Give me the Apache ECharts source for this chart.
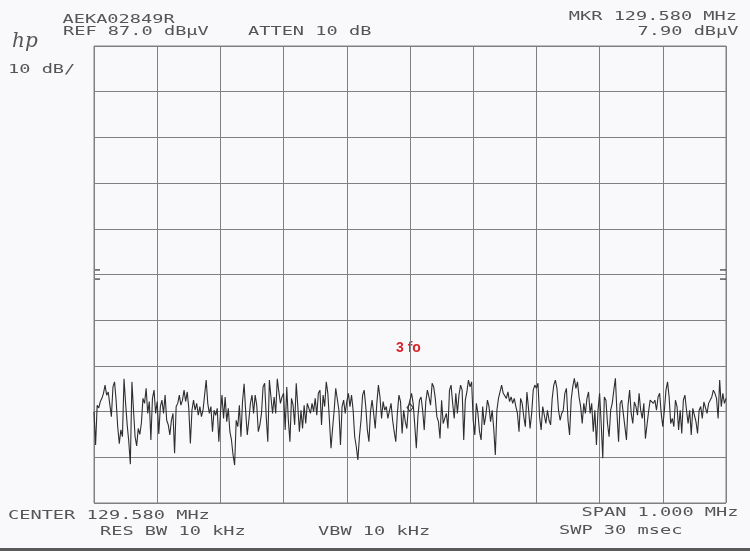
<!DOCTYPE html>
<html>
<head>
<meta charset="utf-8">
<script src="https://cdn.jsdelivr.net/npm/echarts@6/dist/echarts.min.js"></script>
<style>
  html, body { margin: 0; padding: 0; background: #f9f9fc; }
  #chart { width: 750px; height: 551px; }
</style>
</head>
<body>
<div id="chart"></div>
<script>
// ---- instrument settings ----
const refLevel = 87.0;      // dBµV, top of screen
const dbPerDiv = 10;
const vDivs = 10;
const hDivs = 10;
const markerIndex = 200;    // centre of sweep
const markerLevel = 7.90;   // dBµV

// ---- header / footer annotations ----
const headerLeft = ['AEKA02849R', 'REF 87.0 dBµV', 'ATTEN 10 dB', '10 dB/'];
const headerRight = ['MKR 129.580 MHz', '7.90 dBµV'];
const footerTexts = ['CENTER 129.580 MHz', 'RES BW 10 kHz', 'VBW 10 kHz', 'SPAN 1.000 MHz', 'SWP 30 msec'];
const noteText = '3 fo';

// ---- trace (dBµV), 401 sweep points ----
const traceA = [
  7.0, -0.3, 8.4, 7.8, 9.2, 9.9, 11.0, 12.8, 10.6, 11.3,
  11.7, 5.9, 12.4, 13.5, 9.5, 3.7, 0.0, 3.0, 1.5, 14.2,
  8.8, 4.1, 0.5, -4.5, 13.5, 7.3, 1.5, -0.5, 3.3, 2.0,
  4.5, 9.9, 8.8, 12.1, 6.6, 9.2, 0.8, 9.9, 11.7, 6.6,
  9.2, 2.1, 8.1, 9.5, 6.6, 10.6, 5.1, 4.1, 1.9, 5.1,
  6.6, -2.1, 8.1, 8.8, 10.6, 8.4, 9.5, 11.7, 9.2, 11.3,
  7.7, 0.0, 7.3, 9.5, 7.3, 8.8, 6.2, 8.1, 5.9, 7.3,
  10.6, 13.9, 8.8, 6.6, 8.1, 2.6, 7.3, 6.2, 7.7, 0.4,
  6.6, 10.6, 5.5, 10.2, 4.8, 7.7, 2.6, 0.8, -2.5, -4.7,
  5.1, 3.7, 8.4, 1.5, 9.2, 13.1, 7.0, 1.9, 5.1
];
const traceB = [
  8.8, 10.6, 6.6, 10.6, 8.4, 2.6, 4.1, 6.6, 12.4, 13.2,
  5.9, 0.4, 13.9, 10.2, 6.6, 10.2, 6.6, 14.2, 11.3, 8.8,
  10.2, 11.0, 3.0, 12.4, 5.1, 0.4, 9.9, 8.4, 4.1, 13.2,
  8.1, 2.6, 7.3, 3.3, 8.4, 4.4, 8.8, 9.2, 6.6, 8.8,
  7.0, 9.9, 6.2, 11.0, 11.7, 4.1, 10.6, 8.1, 13.5, 11.0,
  5.1, -1.0, 3.3, 7.3, 12.1, 11.7, 7.3, -0.3, 8.1, 9.5,
  6.6, 9.2, 11.0, 8.1, 10.6, 7.3, 1.5, -0.7, -3.6, 1.5,
  5.1, 10.6, 11.7, 8.1, 3.0, 0.4, 7.0, 9.5, 6.6, 3.3,
  8.8, 12.8, 10.2, 5.5, 9.2, 7.3, 8.1, 5.5, 5.9, 8.8,
  5.1, 2.6, 0.4, 6.6, 10.6, 9.2, 2.2, 7.3, 4.8, 3.3,
  8.1
];
const traceC = [
  8.1, 11.0, 8.8, 4.1, -1.0, 5.9, 9.5, 10.2, 7.3, 3.0,
  9.2, 11.7, 10.2, 8.4, 13.2, 12.4, 9.9, 5.9, 4.8, 1.1,
  9.5, 4.4, 5.5, 6.6, 3.3, 11.7, 12.8, 8.8, 5.5, 11.0,
  6.6, 10.6, 12.8, 11.7, 0.8, 9.5, 11.3, 13.9, 12.4, 13.5,
  5.1, 1.9, 8.8, 6.6, 2.6, 0.8, 8.1, 4.1, 6.2, 9.5,
  8.1, 4.8, 7.3, 3.3, -2.5, 7.3, 9.9, 9.9, 12.8, 11.0,
  10.6, 9.9, 11.3, 9.2, 10.2, 8.8, 9.9, 8.1, 6.6, 2.6,
  9.9, 8.8, 5.9, 3.7, 11.3, 7.7, 3.3, 6.6, 11.7, 12.8,
  12.1, 13.2, 5.9, 3.0, 8.1, 7.7, 4.4, 7.3, 5.1, 4.1,
  9.9, 12.8, 13.9, 12.1, 7.3, 5.1, 6.6, 7.3, 11.0, 12.1,
  5.1
];
const traceD = [
  1.9, 9.5, 12.4, 14.3, 12.1, 13.5, 10.2, 8.1, 4.4, 8.8,
  6.6, 9.9, 11.3, 6.6, 8.8, 2.6, 7.3, -0.3, 7.3, 11.0,
  4.4, -3.2, 10.2, 9.5, 4.4, 1.5, 7.3, 8.8, 11.7, 14.3,
  6.6, 0.4, 8.8, 9.5, 9.9, 3.7, 0.8, 8.4, 11.7, 6.6,
  4.4, 9.1, 8.1, 6.2, 11.0, 7.3, 5.5, 8.8, 1.1, 4.1,
  7.0, 9.5, 9.9, 8.8, 9.5, 7.3, 10.2, 11.0, 6.6, 3.7,
  7.3, 11.7, 13.5, 10.2, 4.4, 5.5, 3.7, 9.5, 8.1, 3.0,
  7.3, 2.2, 9.5, 10.6, 7.3, 4.4, 7.3, 1.9, 7.7, 6.2,
  4.8, 2.2, 7.3, 8.1, 5.5, 9.1, 9.5, 6.6, 8.8, 8.4,
  10.2, 11.7, 11.0, 9.9, 5.5, 13.9, 8.1, 11.0, 8.8, 9.9
];

// ---- build ----
const trace = traceA.concat(traceB, traceC, traceD);
const nPts = trace.length;                       // 401
const bottomLevel = refLevel - dbPerDiv * vDivs; // -13 dBµV
const ySpan = dbPerDiv * vDivs;                  // axis runs 0..100 dB above screen bottom
const xMax = nPts - 1;
const seriesData = trace.map((v, i) => [i, +(v - bottomLevel).toFixed(2)]);

const gridColor = '#808080';
const inkColor = '#555555';
const monoFont = '12.5px "DejaVu Sans Mono", "Liberation Mono", monospace';
const SX = 1.49;

function txt(text, x, y, align) {
  return {
    type: 'text', x: x, y: y, scaleX: SX, silent: true,
    style: {
      text: text, fill: inkColor, font: monoFont,
      textAlign: align || 'left', align: align || 'left',
      textVerticalAlign: 'middle', verticalAlign: 'middle'
    }
  };
}

const chart = echarts.init(document.getElementById('chart'), null, { renderer: 'canvas' });

const option = {
  backgroundColor: '#f9f9fc',
  animation: false,
  grid: {
    left: 94, top: 46, width: 632, height: 457,
    show: true, borderColor: gridColor, borderWidth: 1, backgroundColor: 'transparent'
  },
  xAxis: {
    type: 'value', min: 0, max: xMax, interval: xMax / hDivs,
    axisLine: { show: false }, axisTick: { show: false }, axisLabel: { show: false },
    splitLine: { show: true, lineStyle: { color: gridColor, width: 1 } }
  },
  yAxis: {
    type: 'value', min: 0, max: ySpan, interval: dbPerDiv,
    axisLine: { show: false }, axisTick: { show: false }, axisLabel: { show: false },
    splitLine: { show: true, lineStyle: { color: gridColor, width: 1 } }
  },
  series: [{
    type: 'line',
    data: seriesData,
    showSymbol: false,
    symbol: 'none',
    lineStyle: { color: '#2e2e2e', width: 1.1 },
    silent: true,
    markPoint: {
      silent: true,
      symbol: 'diamond',
      symbolSize: [6, 8],
      label: { show: false },
      itemStyle: { color: 'rgba(0,0,0,0)', borderColor: '#363636', borderWidth: 1 },
      data: [{ coord: [markerIndex, markerLevel - bottomLevel] }]
    }
  }],
  graphic: [
    { type: 'rect', left: 0, top: 548, shape: { width: 750, height: 3 }, style: { fill: '#5a5a5a' }, silent: true },
    { type: 'text', x: 12, y: 42, silent: true,
      style: { text: 'hp', fill: '#555', font: 'italic 20px "DejaVu Serif", serif', textAlign: 'left', align: 'left', textVerticalAlign: 'middle', verticalAlign: 'middle' } },
    txt(headerLeft[0], 62.5, 19.5),
    txt(headerLeft[1], 63, 31.5),
    txt(headerLeft[2], 248, 31.5),
    txt(headerLeft[3], 8, 70),
    txt(headerRight[0], 737, 17, 'right'),
    txt(headerRight[1], 738.5, 32, 'right'),
    txt(footerTexts[0], 8, 516),
    txt(footerTexts[1], 100, 531.5),
    txt(footerTexts[2], 318, 531.5),
    txt(footerTexts[3], 738.5, 513, 'right'),
    txt(footerTexts[4], 559, 531),
    { type: 'text', x: 396, y: 348, silent: true,
      style: { text: noteText, fill: '#d8232a', font: 'bold 14px "Liberation Sans", Arial, sans-serif', textAlign: 'left', align: 'left', textVerticalAlign: 'middle', verticalAlign: 'middle' } }
  ]
};
chart.setOption(option);

// small reference-level ticks on both frame edges (positions from the axes)
const mid = ySpan / 2;
const pUp = chart.convertToPixel({ gridIndex: 0 }, [0, mid + 1]);
const pDn = chart.convertToPixel({ gridIndex: 0 }, [0, mid - 1]);
const pR = chart.convertToPixel({ gridIndex: 0 }, [xMax, mid]);
const tickLen = 6;
const extra = [];
[pUp[1], pDn[1]].forEach(function (yy) {
  extra.push({ type: 'line', silent: true, shape: { x1: pUp[0], y1: yy, x2: pUp[0] + tickLen, y2: yy }, style: { stroke: '#333', lineWidth: 1.2 } });
  extra.push({ type: 'line', silent: true, shape: { x1: pR[0] - tickLen, y1: yy, x2: pR[0], y2: yy }, style: { stroke: '#333', lineWidth: 1.2 } });
});
chart.setOption({ graphic: option.graphic.concat(extra) });
</script>
</body>
</html>
